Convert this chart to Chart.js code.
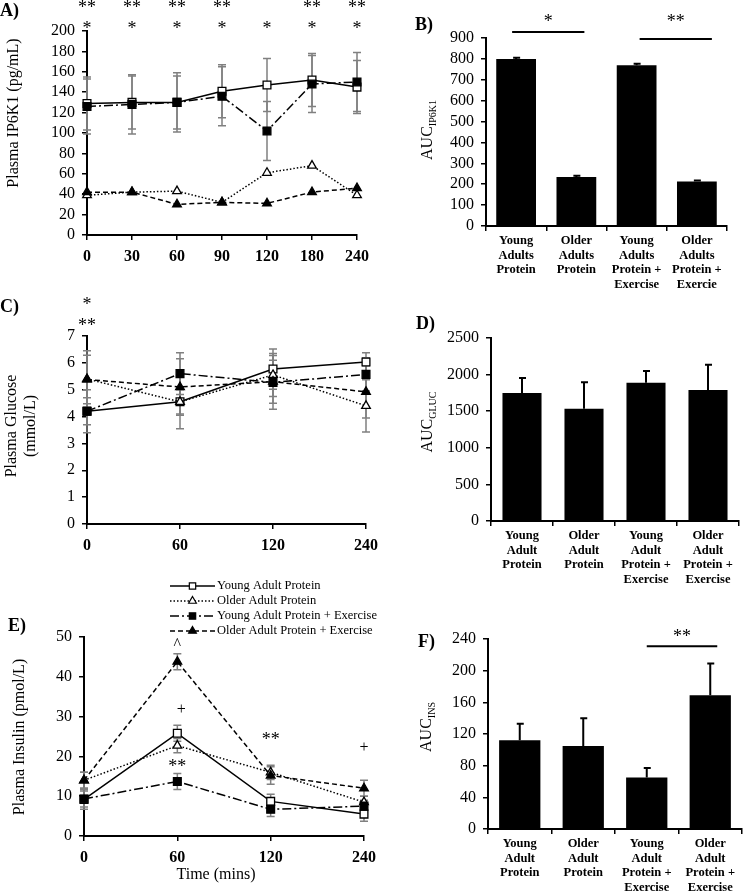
<!DOCTYPE html>
<html>
<head>
<meta charset="utf-8">
<script src="https://cdn.jsdelivr.net/npm/chart.js@4.4.1/dist/chart.umd.min.js"></script>
<style>
  body { margin: 0; background: #fff; width: 744px; height: 894px; position: relative; overflow: hidden; }
  canvas { position: absolute; }
</style>
</head>
<body>
<canvas id="cA" width="380" height="280" style="left:0;top:0"></canvas>
<canvas id="cB" width="369" height="290" style="left:375px;top:0"></canvas>
<canvas id="cC" width="390" height="280" style="left:0;top:290px"></canvas>
<canvas id="cD" width="369" height="300" style="left:375px;top:290px"></canvas>
<canvas id="cE" width="390" height="314" style="left:0;top:580px"></canvas>
<canvas id="cF" width="369" height="314" style="left:375px;top:580px"></canvas>
<script>
// ---- data ----
const groups = ['Young Adult Protein', 'Older Adult Protein', 'Young Adult Protein + Exercise', 'Older Adult Protein + Exercise'];

// A) plasma IP6K1 (pg/mL)
const timesA = ['0', '30', '60', '90', '120', '180', '240'];
const ip6YAP = [129, 130, 130, 141, 147, 152, 145];
const ip6OAP = [39, 42, 43, 32, 61, 68, 39];
const ip6YAPE = [126, 128, 130, 136, 102, 148, 150];
const ip6OAPE = [42, 42, 30, 32, 31, 42, 46];
const ip6YAPErr = [26, 26, 29, 26, 26, 26, 26];
const ip6YAPEErr = [27, 29, 26, 29, 29, 28, 29];
const starsA2 = ['**', '**', '**', '**', '', '**', '**'];
const starsA1 = ['*', '*', '*', '*', '*', '*', '*'];

// B) AUC IP6K1
const labelsB = [['Young', 'Adults', 'Protein'], ['Older', 'Adults', 'Protein'], ['Young', 'Adults', 'Protein +', 'Exercise'], ['Older', 'Adults', 'Protein +', 'Exercie']];
const aucIP6 = [800, 235, 770, 213];
const aucIP6Err = [6, 6, 7, 5];

// C) plasma glucose (mmol/L)
const timesC = ['0', '60', '120', '240'];
const glcYAP = [4.2, 4.55, 5.77, 6.03];
const glcOAP = [5.4, 4.55, 5.55, 4.4];
const glcYAPE = [4.2, 5.6, 5.27, 5.57];
const glcOAPE = [5.38, 5.1, 5.3, 4.92];
const glcYAPErr = [0.8, 1.0, 0.75, 0.35];
const glcOAPErr = [1.05, 0.45, 0.8, 0.97];
const glcYAPEErr = [0.5, 0.78, 1.0, 0.62];
const glcOAPEErr = [0.9, 1.05, 0.8, 0.97];
const starsC1 = ['*', '', '', ''];
const starsC2 = ['**', '', '', ''];

// D) AUC glucose
const labelsDF = [['Young', 'Adult', 'Protein'], ['Older', 'Adult', 'Protein'], ['Young', 'Adult', 'Protein +', 'Exercise'], ['Older', 'Adult', 'Protein +', 'Exercise']];
const aucGluc = [1750, 1535, 1890, 1790];
const aucGlucErr = [205, 360, 160, 345];

// E) plasma insulin (pmol/L)
const timesE = ['0', '60', '120', '240'];
const insYAP = [9.2, 25.8, 8.7, 5.5];
const insOAP = [14, 22.7, 16, 8.5];
const insYAPE = [9.3, 13.7, 6.7, 7.5];
const insOAPE = [14, 43.8, 15.2, 12];
const insYAPErr = [2.5, 2, 1.8, 1.8];
const insOAPErr = [2, 1.8, 1.8, 1.5];
const insYAPEErr = [2, 2, 1.8, 1.5];
const insOAPEErr = [2, 2, 2.2, 2];
const notesETime = ['60', '60', '60', '120', '240'];
const notesEValue = [48, 31.7, 17.3, 24.1, 22.1];
const notesEText = ['^', '+', '**', '**', '+'];

// F) AUC insulin
const aucIns = [112, 105, 65, 169];
const aucInsErr = [21, 35, 12, 40];

// ---- drawing ----
const SERIF = "'Liberation Serif', 'Times New Roman', serif";
Chart.defaults.font.family = SERIF;
Chart.defaults.color = '#000';

const lineStyles = [
  { dash: [], ps: 'rect', fill: '#fff', r: 5.5 },
  { dash: [1.5, 2], ps: 'triangle', fill: '#fff', r: 5 },
  { dash: [9, 3, 2, 3], ps: 'rect', fill: '#000', r: 5.5 },
  { dash: [5, 3], ps: 'triangle', fill: '#000', r: 5 }
];

function lineSets(series, errs) {
  return series.map((d, i) => ({
    label: groups[i],
    data: d,
    err: errs[i],
    borderColor: '#000',
    borderWidth: 1.5,
    borderDash: lineStyles[i].dash,
    pointStyle: lineStyles[i].ps,
    pointRadius: lineStyles[i].r,
    pointBackgroundColor: lineStyles[i].fill,
    pointBorderColor: '#000',
    pointBorderWidth: 1.3,
    tension: 0,
    fill: false,
    clip: false,
    order: 4 - i
  }));
}

function txt(ctx, s, x, y, font, align) {
  ctx.save();
  ctx.font = font;
  ctx.fillStyle = '#000';
  ctx.textAlign = align || 'center';
  ctx.textBaseline = 'middle';
  ctx.fillText(s, x, y);
  ctx.restore();
}

function drawYTitle(ctx, t) {
  ctx.save();
  ctx.translate(t.x, t.y);
  ctx.rotate(-Math.PI / 2);
  ctx.fillStyle = '#000';
  ctx.textBaseline = 'middle';
  const main = '16px ' + SERIF;
  ctx.font = main;
  if (t.sub) {
    const w1 = ctx.measureText(t.lines[0]).width;
    ctx.font = '10px ' + SERIF;
    const w2 = ctx.measureText(t.sub).width;
    const start = -(w1 + w2) / 2;
    ctx.textAlign = 'left';
    ctx.fillText(t.sub, start + w1, 5);
    ctx.font = main;
    ctx.fillText(t.lines[0], start, 0);
  } else {
    ctx.textAlign = 'center';
    const lh = t.lh || 18;
    t.lines.forEach((l, k) => ctx.fillText(l, 0, (k - (t.lines.length - 1) / 2) * lh));
  }
  ctx.restore();
}

function drawLineErrors(chart) {
  const ctx = chart.ctx, ys = chart.scales.y;
  chart.data.datasets.forEach((ds, i) => {
    if (!ds.err) return;
    chart.getDatasetMeta(i).data.forEach((pt, j) => {
      const e = ds.err[j];
      if (!e) return;
      const v = ds.data[j];
      const x = pt.x, y1 = ys.getPixelForValue(v + e), y2 = ys.getPixelForValue(v - e);
      ctx.save();
      ctx.strokeStyle = '#808080';
      ctx.lineWidth = 1.5;
      ctx.beginPath();
      ctx.moveTo(x, y1); ctx.lineTo(x, y2);
      ctx.moveTo(x - 4, y1); ctx.lineTo(x + 4, y1);
      ctx.moveTo(x - 4, y2); ctx.lineTo(x + 4, y2);
      ctx.stroke();
      ctx.restore();
    });
  });
}

function drawBarErrors(chart) {
  const ctx = chart.ctx, ys = chart.scales.y, ds = chart.data.datasets[0];
  chart.getDatasetMeta(0).data.forEach((bar, j) => {
    const top = ys.getPixelForValue(ds.data[j] + ds.err[j]);
    ctx.save();
    ctx.strokeStyle = '#000';
    ctx.lineWidth = 2;
    ctx.beginPath();
    ctx.moveTo(bar.x, bar.y); ctx.lineTo(bar.x, top);
    ctx.moveTo(bar.x - 3, top); ctx.lineTo(bar.x + 4, top);
    ctx.stroke();
    ctx.restore();
  });
}

function drawLegend(chart, lg) {
  const ctx = chart.ctx;
  chart.data.datasets.forEach((ds, i) => {
    const y = lg.y + i * lg.dy;
    ctx.save();
    ctx.strokeStyle = '#000';
    ctx.lineWidth = 1.5;
    ctx.setLineDash(ds.borderDash);
    ctx.beginPath();
    ctx.moveTo(lg.x, y); ctx.lineTo(lg.x + lg.w, y);
    ctx.stroke();
    ctx.setLineDash([]);
    ctx.fillStyle = ds.pointBackgroundColor;
    ctx.lineWidth = 1.2;
    Chart.helpers.drawPoint(ctx, { pointStyle: ds.pointStyle, radius: 4.5, rotation: 0, borderWidth: 1.2 }, lg.x + lg.w / 2, y);
    ctx.restore();
    txt(ctx, ds.label, lg.x + lg.w + 2, y, '12.5px ' + SERIF, 'left');
  });
}

const deco = (cfg) => ({
  id: 'deco',
  beforeDatasetsDraw(chart) { if (cfg.lineErr) drawLineErrors(chart); },
  afterDatasetsDraw(chart) { if (cfg.barErr) drawBarErrors(chart); },
  afterDraw(chart) {
    const ctx = chart.ctx, xs = chart.scales.x, ys = chart.scales.y, area = chart.chartArea;
    txt(ctx, cfg.letter[0], cfg.letter[1], cfg.letter[2], 'bold 18px ' + SERIF, 'left');
    drawYTitle(ctx, cfg.ytitle);
    if (cfg.xtitle) txt(ctx, cfg.xtitle[0], cfg.xtitle[1], cfg.xtitle[2], '16px ' + SERIF, 'center');
    (cfg.starRows || []).forEach(r => r.labels.forEach((s, i) => {
      if (s) txt(ctx, s, xs.getPixelForValue(i), area.top + r.dy, '18px ' + SERIF, 'center');
    }));
    if (cfg.notes) cfg.notes.text.forEach((s, k) => {
      const i = cfg.notes.cats.indexOf(cfg.notes.time[k]);
      const big = s === '**' ? '18px ' : '16px ';
      txt(ctx, s, xs.getPixelForValue(i) + (s === '+' && i === 1 ? 4 : 0), ys.getPixelForValue(cfg.notes.value[k]), big + SERIF, 'center');
    });
    (cfg.sig || []).forEach(sg => {
      const bars = chart.getDatasetMeta(0).data;
      const x0 = bars[sg.a].x + sg.off[0], x1 = bars[sg.b].x + sg.off[1];
      const yl = ys.getPixelForValue(sg.lineVal);
      ctx.save();
      ctx.strokeStyle = '#000';
      ctx.lineWidth = 2;
      ctx.beginPath(); ctx.moveTo(x0, yl); ctx.lineTo(x1, yl); ctx.stroke();
      ctx.restore();
      txt(ctx, sg.text, (x0 + x1) / 2, ys.getPixelForValue(sg.textVal), '18px ' + SERIF, 'center');
    });
    if (cfg.legend) drawLegend(chart, cfg.legend);
  }
});

const plain = (v) => String(v);

function lineChart(id, labels, datasets, o) {
  return new Chart(document.getElementById(id), {
    type: 'line',
    data: { labels, datasets },
    options: {
      responsive: false, animation: false, devicePixelRatio: 1,
      layout: { padding: { top: o.top, right: o.right, left: 0, bottom: 0 } },
      plugins: { legend: { display: false }, tooltip: { enabled: false } },
      scales: {
        x: {
          offset: false,
          grid: { display: true, drawOnChartArea: false, tickLength: 5, tickColor: '#000', color: '#000', lineWidth: 1.5 },
          border: { color: '#000', width: 2 },
          ticks: { font: { size: 16, weight: 'bold' }, maxRotation: 0, autoSkip: false, padding: 7 },
          afterFit(s) { s.height = o.xh; }
        },
        y: {
          min: 0, max: o.max,
          grid: { drawOnChartArea: false, tickLength: 5, tickColor: '#000', color: '#000', lineWidth: 1.5 },
          border: { color: '#000', width: 2 },
          ticks: { stepSize: o.step, autoSkip: false, font: { size: 16, lineHeight: 1 }, padding: 7, callback: plain },
          afterFit(s) { s.width = o.yw; }
        }
      }
    },
    plugins: [deco(o)]
  });
}

function barChart(id, labels, values, errs, o) {
  return new Chart(document.getElementById(id), {
    type: 'bar',
    data: { labels, datasets: [{ data: values, err: errs, backgroundColor: '#000', barPercentage: o.barPct, categoryPercentage: 1 }] },
    options: {
      responsive: false, animation: false, devicePixelRatio: 1,
      layout: { padding: { top: o.top, right: o.right, left: 0, bottom: 0 } },
      plugins: { legend: { display: false }, tooltip: { enabled: false } },
      scales: {
        x: {
          grid: { display: true, drawOnChartArea: false, offset: true, tickLength: 5, tickColor: '#000', color: '#000', lineWidth: 1.5 },
          border: { color: '#000', width: 2 },
          ticks: { font: { size: 12.5, weight: 'bold', lineHeight: 1.16 }, maxRotation: 0, autoSkip: false, padding: 3 },
          afterFit(s) { s.height = o.xh; }
        },
        y: {
          min: 0, max: o.max,
          grid: { drawOnChartArea: false, tickLength: 5, tickColor: '#000', color: '#000', lineWidth: 1.5 },
          border: { color: '#000', width: 2 },
          ticks: { stepSize: o.step, autoSkip: false, font: { size: 16, lineHeight: 1 }, padding: 7, callback: plain },
          afterFit(s) { s.width = o.yw; }
        }
      }
    },
    plugins: [deco(o)]
  });
}

lineChart('cA', timesA,
  lineSets([ip6YAP, ip6OAP, ip6YAPE, ip6OAPE], [ip6YAPErr, null, ip6YAPEErr, null]),
  { top: 31, right: 23, xh: 45, yw: 87, max: 200, step: 20, lineErr: true,
    letter: ['A)', 0, 11], ytitle: { lines: ['Plasma IP6K1 (pg/mL)'], x: 14, y: 113 },
    starRows: [{ labels: starsA2, dy: -23 }, { labels: starsA1, dy: -2 }] });

barChart('cB', labelsB, aucIP6, aucIP6Err,
  { top: 38, right: 17, xh: 64, yw: 111, max: 900, step: 100, barPct: 0.66, barErr: true,
    letter: ['B)', 40, 25], ytitle: { lines: ['AUC'], sub: 'IP6K1', x: 53, y: 130 },
    sig: [{ a: 0, b: 1, text: '*', off: [-4, 8], lineVal: 929, textVal: 975 },
          { a: 2, b: 3, text: '**', off: [3, 15], lineVal: 895, textVal: 975 }] });

lineChart('cC', timesC,
  lineSets([glcYAP, glcOAP, glcYAPE, glcOAPE], [glcYAPErr, glcOAPErr, glcYAPEErr, glcOAPEErr]),
  { top: 46, right: 24, xh: 46, yw: 87, max: 7, step: 1, lineErr: true,
    letter: ['C)', 0, 17], ytitle: { lines: ['Plasma Glucose', '(mmol/L)'], x: 21.5, y: 136, lh: 19 },
    starRows: [{ labels: starsC1, dy: -31 }, { labels: starsC2, dy: -10 }] });

barChart('cD', labelsDF, aucGluc, aucGlucErr,
  { top: 48, right: 5, xh: 69, yw: 116, max: 2500, step: 500, barPct: 0.63, barErr: true,
    letter: ['D)', 41, 34], ytitle: { lines: ['AUC'], sub: 'GLUC', x: 53, y: 132 } });

lineChart('cE', timesE,
  lineSets([insYAP, insOAP, insYAPE, insOAPE], [insYAPErr, insOAPErr, insYAPEErr, insOAPEErr]),
  { top: 57, right: 26, xh: 58, yw: 84, max: 50, step: 10, lineErr: true,
    letter: ['E)', 8, 46], ytitle: { lines: ['Plasma Insulin (pmol/L)'], x: 20, y: 157 },
    xtitle: ['Time (mins)', 216, 295],
    notes: { cats: timesE, time: notesETime, value: notesEValue, text: notesEText },
    legend: { x: 170, y: 6, dy: 15, w: 45 } });

barChart('cF', labelsDF, aucIns, aucInsErr,
  { top: 59, right: 2, xh: 65, yw: 113, max: 240, step: 40, barPct: 0.65, barErr: true,
    letter: ['F)', 43, 62], ytitle: { lines: ['AUC'], sub: 'INS', x: 52, y: 147 },
    sig: [{ a: 2, b: 3, text: '**', off: [0, 7], lineVal: 231, textVal: 242 }] });
</script>
</body>
</html>
